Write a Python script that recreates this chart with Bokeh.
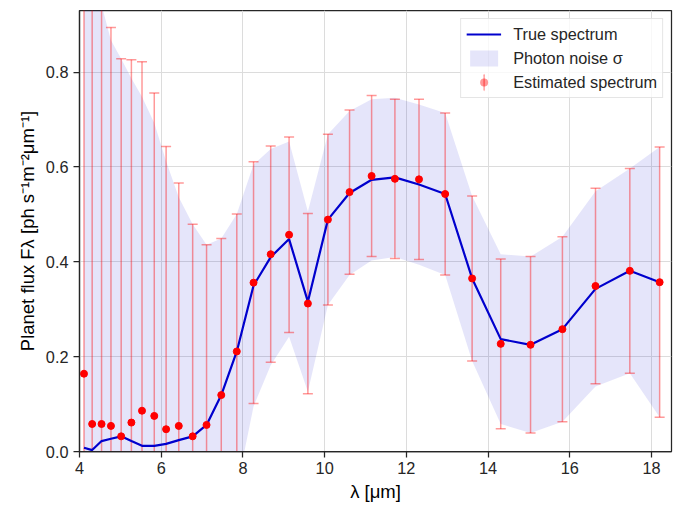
import numpy as np
from bokeh.plotting import figure
from bokeh.models import (ColumnDataSource, Legend, LegendItem, FixedTicker,
                          NumeralTickFormatter, Range1d)
from bokeh.embed import file_html
from bokeh.resources import INLINE

# ---------------- data ----------------
wavelength = [4.11, 4.31, 4.54, 4.77, 5.02, 5.27, 5.53, 5.83, 6.12, 6.43, 6.77,
              7.11, 7.47, 7.85, 8.26, 8.68, 9.13, 9.59, 10.08, 10.61, 11.15,
              11.72, 12.31, 12.95, 13.61, 14.31, 15.04, 15.82, 16.63, 17.47, 18.20]
true_flux = [0.008, 0.003, 0.022, 0.027, 0.032, 0.022, 0.012, 0.012, 0.016, 0.024,
             0.032, 0.056, 0.119, 0.211, 0.350, 0.410, 0.448, 0.316, 0.489, 0.545,
             0.573, 0.578, 0.563, 0.543, 0.365, 0.237, 0.225, 0.258, 0.343, 0.381, 0.357]
est_flux = [0.164, 0.058, 0.058, 0.054, 0.032, 0.061, 0.086, 0.075, 0.047, 0.054,
            0.032, 0.056, 0.119, 0.211, 0.356, 0.416, 0.457, 0.312, 0.489, 0.547,
            0.581, 0.575, 0.574, 0.543, 0.365, 0.227, 0.225, 0.258, 0.349, 0.381, 0.357]
sigma = [1.25, 1.05, 0.92, 0.84, 0.796, 0.765, 0.736, 0.681, 0.596, 0.512, 0.447,
         0.38, 0.33, 0.29, 0.255, 0.228, 0.206, 0.19, 0.18, 0.173, 0.17, 0.168,
         0.169, 0.171, 0.174, 0.179, 0.186, 0.195, 0.206, 0.216, 0.285]

x_ticks = [4, 6, 8, 10, 12, 14, 16, 18]
y_ticks = [0.0, 0.2, 0.4, 0.6, 0.8]

x_label = "\u03bb [\u03bcm]"
y_label = "Planet flux F\u03bb [ph s\u207b\u00b9m\u207b\u00b2\u03bcm\u207b\u00b9]"
legend_labels = ["True spectrum", "Photon noise \u03c3", "Estimated spectrum"]

# ---------------- derived ----------------
wl = np.array(wavelength)
tf = np.array(true_flux)
ef = np.array(est_flux)
sg = np.array(sigma)

src = ColumnDataSource(dict(
    x=wl, true=tf, est=ef,
    band_lo=tf - sg, band_hi=tf + sg,
    err_lo=ef - sg, err_hi=ef + sg,
))

FONT = "Liberation Sans"
TXT = "#262626"
ERR = "red"

p = figure(width=684, height=506, output_backend="svg", toolbar_location=None,
           x_range=Range1d(4.0, 18.49), y_range=Range1d(0.0, 0.93),
           min_border_left=79, min_border_right=13, min_border_top=10,
           min_border_bottom=55)
p.background_fill_color = "white"
p.border_fill_color = "white"
p.outline_line_color = TXT
p.outline_line_width = 1.25

band_r = p.varea(x="x", y1="band_lo", y2="band_hi", source=src,
                 fill_color="#0000cd", fill_alpha=0.1)
p.segment(x0="x", y0="err_lo", x1="x", y1="err_hi", source=src,
          line_color=ERR, line_alpha=0.4, line_width=1.5)
p.scatter(x="x", y="err_lo", source=src, marker="dash", size=10,
          line_color=ERR, line_alpha=0.4, line_width=1.5)
p.scatter(x="x", y="err_hi", source=src, marker="dash", size=10,
          line_color=ERR, line_alpha=0.4, line_width=1.5)
line_r = p.line(x="x", y="true", source=src, line_color="#0000cd", line_width=2.2)

# legend helpers: a tiny vertical ellipse (hidden under the dots) whose legend
# glyph is a vertical error-bar stroke, and a size-0 dot for the legend marker
leg_bar = p.ellipse(x="x", y="est", source=src, width=0.01, height=1.0,
                    width_units="screen", height_units="screen",
                    fill_color=None, line_color=ERR, line_alpha=0.4, line_width=1.5)
leg_dot = p.scatter(x="x", y="est", source=src, marker="circle", size=0,
                    fill_color=ERR, fill_alpha=0.4, line_color=ERR, line_alpha=0.0)

p.scatter(x="x", y="est", source=src, marker="circle", size=7,
          fill_color="red", line_color="red")

legend = Legend(items=[
    LegendItem(label=legend_labels[0], renderers=[line_r]),
    LegendItem(label=legend_labels[1], renderers=[band_r]),
    LegendItem(label=legend_labels[2], renderers=[leg_bar, leg_dot]),
], location="top_right")
legend.label_text_font = FONT
legend.label_text_font_size = "16.3px"
legend.label_text_color = TXT
legend.glyph_width = 35
legend.glyph_height = 20
legend.label_height = 20
legend.label_standoff = 12
legend.spacing = 4
legend.padding = 5
legend.margin = 8
legend.border_line_color = "#cccccc"
legend.border_line_width = 1
legend.background_fill_alpha = 0.8
p.add_layout(legend)

# axes
for ax in (p.xaxis, p.yaxis):
    ax.axis_line_color = TXT
    ax.axis_line_width = 1.25
    ax.major_tick_line_color = TXT
    ax.major_tick_line_width = 1.25
    ax.major_tick_in = 0
    ax.major_tick_out = 6
    ax.minor_tick_line_color = None
    ax.major_label_text_font = FONT
    ax.major_label_text_font_size = "16.3px"
    ax.major_label_text_color = TXT
    ax.axis_label_text_font = FONT
    ax.axis_label_text_font_size = "18.5px"
    ax.axis_label_text_font_style = "normal"
    ax.axis_label_text_color = "black"

p.xaxis.ticker = FixedTicker(ticks=x_ticks)
p.yaxis.ticker = FixedTicker(ticks=y_ticks)
p.yaxis.formatter = NumeralTickFormatter(format="0.0")
p.xaxis.major_label_standoff = 4
p.yaxis.major_label_standoff = 5
p.xaxis.axis_label_standoff = 4
p.yaxis.axis_label_standoff = 5
p.xaxis.axis_label = x_label
p.yaxis.axis_label = y_label

p.xgrid.ticker = FixedTicker(ticks=x_ticks)
p.ygrid.ticker = FixedTicker(ticks=y_ticks)
p.grid.grid_line_color = "#dcdcdc"
p.grid.grid_line_width = 1

open("out.html", "w").write(file_html(p, INLINE))
